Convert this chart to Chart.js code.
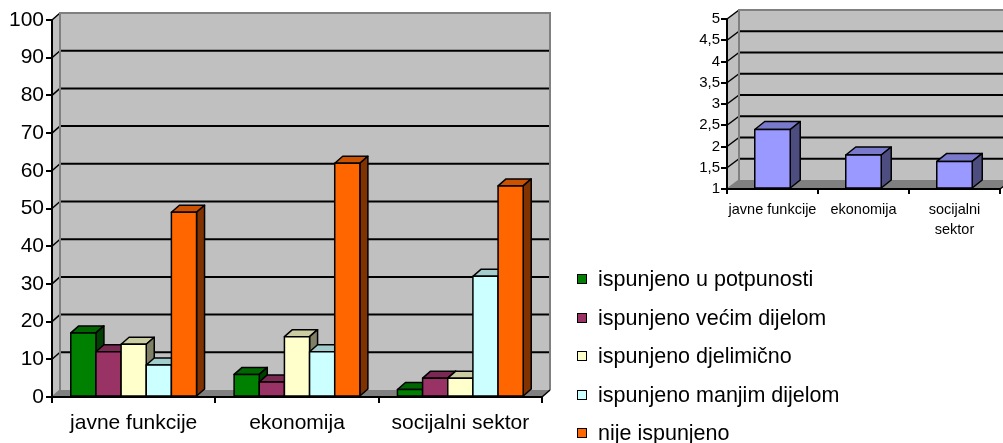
<!DOCTYPE html>
<html><head><meta charset="utf-8">
<script src="https://cdn.jsdelivr.net/npm/chart.js@4/dist/chart.umd.min.js"></script>
<style>
html,body{margin:0;padding:0;background:#fff;width:1003px;height:443px;overflow:hidden;position:relative;font-family:"Liberation Sans",Arial,sans-serif;}
#main{position:absolute;left:0;top:0;}
#small{position:absolute;left:640px;top:0;}
#legend{position:absolute;left:577px;top:0;}
.item{position:absolute;left:0;display:flex;align-items:center;white-space:nowrap;font-size:21.5px;height:24px;line-height:24px;color:#000;}
.sw{width:8px;height:8px;border:1px solid #000;margin-right:11px;flex:none;}
</style></head><body>
<canvas id="main" width="570" height="443"></canvas>
<canvas id="small" width="380" height="270"></canvas>
<div id="legend"></div>
<script>
// ---- data ----
const categories = ['javne funkcije', 'ekonomija', 'socijalni sektor'];
const seriesNames = ['ispunjeno u potpunosti', 'ispunjeno većim dijelom', 'ispunjeno djelimično', 'ispunjeno manjim dijelom', 'nije ispunjeno'];
const ispunjenoUPotpunosti = [17, 6, 2];
const ispunjenoVecimDijelom = [12, 4, 5];
const ispunjenoDjelimicno = [14, 16, 5];
const ispunjenoManjimDijelom = [8.5, 12, 32];
const nijeIspunjeno = [49, 62, 56];
const mainYTicks = [0, 10, 20, 30, 40, 50, 60, 70, 80, 90, 100];

const smallCategories = ['javne funkcije', 'ekonomija', ['socijalni', 'sektor']];
const smallValues = [2.4, 1.8, 1.65];
const smallYTicks = ['1', '1,5', '2', '2,5', '3', '3,5', '4', '4,5', '5'];

// ---- styles ----
const frontColors = ['#008000', '#993366', '#ffffcc', '#ccffff', '#ff6600'];
const topColors   = ['#006600', '#7a2952', '#cccca3', '#a3cccc', '#cc5200'];
const sideColors  = ['#004000', '#4d1a33', '#808066', '#668080', '#803300'];
const smallFront = '#9999ff', smallTop = '#7a7acc', smallSide = '#4d4d80';

const FONT = '"Liberation Sans", Arial, sans-serif';
Chart.defaults.color = '#000';
Chart.defaults.font.family = FONT;

function wallsPlugin(dx, dy) {
  return {
    id: 'walls',
    beforeDraw(chart) {
      const ctx = chart.ctx;
      const {left, right, top, bottom} = chart.chartArea;
      const ys = chart.scales.y;
      ctx.save();
      ctx.fillStyle = '#c0c0c0';
      ctx.beginPath();
      ctx.moveTo(left, top); ctx.lineTo(left + dx, top + dy);
      ctx.lineTo(left + dx, bottom + dy); ctx.lineTo(left, bottom); ctx.closePath();
      ctx.fill();
      ctx.fillRect(left + dx, top + dy, right - left, bottom - top);
      ctx.fillStyle = '#808080';
      ctx.beginPath();
      ctx.moveTo(left, bottom); ctx.lineTo(left + dx, bottom + dy);
      ctx.lineTo(right + dx, bottom + dy); ctx.lineTo(right, bottom); ctx.closePath();
      ctx.fill();
      ys.ticks.forEach(t => {
        const py = ys.getPixelForValue(t.value);
        if (t.value > ys.min && t.value < ys.max) {
          ctx.strokeStyle = '#000'; ctx.lineWidth = 2;
          ctx.beginPath(); ctx.moveTo(left + dx, py + dy); ctx.lineTo(right + dx, py + dy); ctx.stroke();
        }
        ctx.strokeStyle = t.value === ys.min ? '#808080' : '#000'; ctx.lineWidth = 1.5;
        ctx.beginPath(); ctx.moveTo(left, py); ctx.lineTo(left + dx, py + dy); ctx.stroke();
      });
      ctx.strokeStyle = '#808080'; ctx.lineWidth = 2;
      ctx.beginPath();
      ctx.moveTo(left + dx, bottom + dy); ctx.lineTo(left + dx, top + dy);
      ctx.lineTo(right + dx, top + dy); ctx.lineTo(right + dx, bottom + dy);
      ctx.stroke();
      ctx.strokeStyle = '#000'; ctx.lineWidth = 1.5;
      ctx.beginPath(); ctx.moveTo(right, bottom); ctx.lineTo(right + dx, bottom + dy); ctx.stroke();
      ctx.restore();
    }
  };
}

function bars3DPlugin(dx, dy, fronts, tops, sides) {
  return {
    id: 'bars3d',
    afterDatasetsDraw(chart) {
      const ctx = chart.ctx;
      const area = chart.chartArea;
      ctx.save();
      ctx.lineWidth = 1.5; ctx.strokeStyle = '#000'; ctx.lineJoin = 'round';
      const n = chart.data.labels.length;
      for (let j = 0; j < n; j++) {
        chart.data.datasets.forEach((ds, i) => {
          const el = chart.getDatasetMeta(i).data[j];
          if (!el) return;
          const p = el.getProps(['x', 'y', 'base', 'width'], true);
          const l = p.x - p.width / 2, r = p.x + p.width / 2;
          const t = Math.min(p.y, p.base), b = Math.min(Math.max(p.y, p.base), area.bottom);
          ctx.fillStyle = tops[i];
          ctx.beginPath();
          ctx.moveTo(l, t); ctx.lineTo(l + dx, t + dy); ctx.lineTo(r + dx, t + dy); ctx.lineTo(r, t); ctx.closePath();
          ctx.fill(); ctx.stroke();
          ctx.fillStyle = sides[i];
          ctx.beginPath();
          ctx.moveTo(r, t); ctx.lineTo(r + dx, t + dy); ctx.lineTo(r + dx, b + dy); ctx.lineTo(r, b); ctx.closePath();
          ctx.fill(); ctx.stroke();
          ctx.fillStyle = fronts[i];
          ctx.beginPath(); ctx.rect(l, t, r - l, b - t); ctx.fill(); ctx.stroke();
        });
      }
      ctx.restore();
    }
  };
}

// ---- main chart ----
const mainSeries = [ispunjenoUPotpunosti, ispunjenoVecimDijelom, ispunjenoDjelimicno, ispunjenoManjimDijelom, nijeIspunjeno];
new Chart(document.getElementById('main'), {
  type: 'bar',
  data: {
    labels: categories,
    datasets: mainSeries.map((d, i) => ({
      label: seriesNames[i], data: d,
      backgroundColor: frontColors[i], borderColor: '#000', borderWidth: 1.5, borderSkipped: false,
      categoryPercentage: 0.77, barPercentage: 1.0
    }))
  },
  options: {
    responsive: false, devicePixelRatio: 1, animation: false, events: [],
    layout: {padding: {top: 20, right: 28, bottom: 0, left: 0}},
    plugins: {legend: {display: false}, tooltip: {enabled: false}},
    scales: {
      x: {
        grid: {drawOnChartArea: false, drawTicks: true, tickLength: 6, color: '#000', lineWidth: 2, offset: true},
        border: {display: true, color: '#000', width: 2},
        ticks: {font: {size: 21, family: FONT}, color: '#000', padding: 8, maxRotation: 0, autoSkip: false},
        afterFit(s) { s.height = 46; }
      },
      y: {
        min: 0, max: 100,
        afterBuildTicks(s) { s.ticks = mainYTicks.map(v => ({value: v})); },
        grid: {drawOnChartArea: false, drawTicks: true, tickLength: 6, color: '#000', lineWidth: 2},
        border: {display: true, color: '#000', width: 2},
        ticks: {font: {size: 21, family: FONT}, color: '#000', padding: 2, autoSkip: false},
        afterFit(s) { s.width = 52; }
      }
    }
  },
  plugins: [wallsPlugin(8, -7), bars3DPlugin(8, -7, frontColors, topColors, sideColors)]
});

// ---- small chart ----
new Chart(document.getElementById('small'), {
  type: 'bar',
  data: {
    labels: smallCategories,
    datasets: [{
      label: 'prosjek', data: smallValues, base: 1,
      backgroundColor: smallFront, borderColor: '#000', borderWidth: 1.5, borderSkipped: false,
      categoryPercentage: 1.0, barPercentage: 0.39
    }]
  },
  options: {
    responsive: false, devicePixelRatio: 1, animation: false, events: [],
    layout: {padding: {top: 19, right: 20, bottom: 0, left: 0}},
    plugins: {legend: {display: false}, tooltip: {enabled: false}},
    scales: {
      x: {
        grid: {drawOnChartArea: false, drawTicks: true, tickLength: 5, color: '#000', lineWidth: 2, offset: true},
        border: {display: true, color: '#000', width: 2},
        ticks: {font: {size: 14.5, family: FONT, lineHeight: 1.4}, color: '#000', padding: 6, maxRotation: 0, autoSkip: false},
        afterFit(s) { s.height = 81; }
      },
      y: {
        min: 1, max: 5,
        afterBuildTicks(s) { s.ticks = smallYTicks.map(t => ({value: parseFloat(t.replace(',', '.'))})); },
        grid: {drawOnChartArea: false, drawTicks: true, tickLength: 6, color: '#000', lineWidth: 2},
        border: {display: true, color: '#000', width: 2},
        ticks: {font: {size: 15, family: FONT, lineHeight: 1}, color: '#000', padding: 1, autoSkip: false,
          callback: (v) => smallYTicks.find(t => parseFloat(t.replace(',', '.')) === v)},
        afterFit(s) { s.width = 87; }
      }
    }
  },
  plugins: [wallsPlugin(12, -9), bars3DPlugin(10, -8, [smallFront], [smallTop], [smallSide])]
});

// ---- legend ----
const legend = document.getElementById('legend');
seriesNames.forEach((name, i) => {
  const row = document.createElement('div');
  row.className = 'item';
  row.style.top = (267 + i * 38.6) + 'px';
  const sw = document.createElement('span');
  sw.className = 'sw'; sw.style.background = frontColors[i];
  const tx = document.createElement('span');
  tx.textContent = name;
  row.appendChild(sw); row.appendChild(tx);
  legend.appendChild(row);
});
</script>
</body></html>
